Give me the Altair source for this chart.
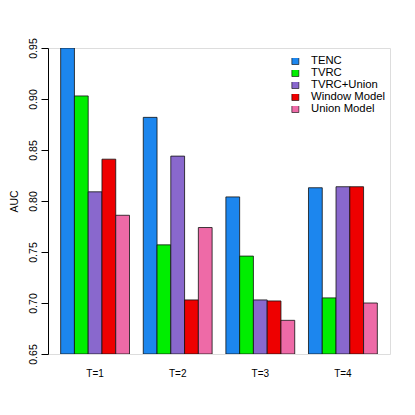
import altair as alt
import pandas as pd

groups = ["T=1", "T=2", "T=3", "T=4"]
models = ["TENC", "TVRC", "TVRC+Union", "Window Model", "Union Model"]
colors = ["#1C86EE", "#00EE00", "#8968CD", "#EE0000", "#EE6AA7"]

tenc = [0.950, 0.882, 0.804, 0.813]
tvrc = [0.903, 0.757, 0.746, 0.705]
tvrc_union = [0.809, 0.844, 0.703, 0.814]
window_model = [0.841, 0.703, 0.702, 0.814]
union_model = [0.786, 0.774, 0.683, 0.700]

y_ticks = [0.65, 0.70, 0.75, 0.80, 0.85, 0.90, 0.95]

series = [tenc, tvrc, tvrc_union, window_model, union_model]
rows = []
for m, vals in zip(models, series):
    for g, v in zip(groups, vals):
        rows.append({"group": g, "model": m, "auc": v})
df = pd.DataFrame(rows)

FONT = "Liberation Sans"

chart = alt.Chart(df).mark_bar(stroke="#111111", strokeWidth=0.8, clip=True).encode(
    x=alt.X(
        "group:N",
        sort=groups,
        scale=alt.Scale(paddingInner=1 / 6, paddingOuter=0.1533, align=0.5),
        axis=alt.Axis(
            title=None, labelAngle=0, ticks=False, domain=False, tickSize=0,
            labelPadding=14, labelFontSize=10, labelFont=FONT, labelColor="black",
        ),
    ),
    xOffset=alt.XOffset("model:N", sort=models, scale=alt.Scale(paddingInner=0, paddingOuter=0)),
    y=alt.Y(
        "auc:Q",
        scale=alt.Scale(domain=[0.65, 0.95], zero=False, nice=False),
        axis=alt.Axis(
            title="AUC", values=y_ticks, format=".2f", grid=False,
            domainColor="black", tickColor="black", tickSize=7,
            labelAngle=270, labelAlign="center", labelBaseline="bottom",
            labelPadding=3, labelFontSize=10.5, labelFont=FONT, labelColor="black",
            titleFontSize=10.5, titleFont=FONT, titleFontWeight="normal",
            titleColor="black", titlePadding=9,
        ),
    ),
    y2=alt.datum(0.65),
    color=alt.Color(
        "model:N",
        sort=models,
        scale=alt.Scale(domain=models, range=colors),
        legend=alt.Legend(
            title=None, orient="none", legendX=241.7, legendY=10,
            symbolType="square", symbolSize=49, symbolStrokeColor="black",
            symbolStrokeWidth=0.6, symbolOpacity=1,
            labelFontSize=11.3, labelFont=FONT, labelColor="black",
            labelOffset=10, rowPadding=0, clipHeight=6, padding=0,
        ),
    ),
).properties(
    width=342,
    height=306,
    autosize=alt.AutoSizeParams(type="none"),
    padding={"left": 40, "top": 40, "right": 17, "bottom": 45},
).configure_view(stroke=None).configure(font=FONT, background="white")

chart.save("out.html", embed_options={"renderer": "svg", "actions": False})
